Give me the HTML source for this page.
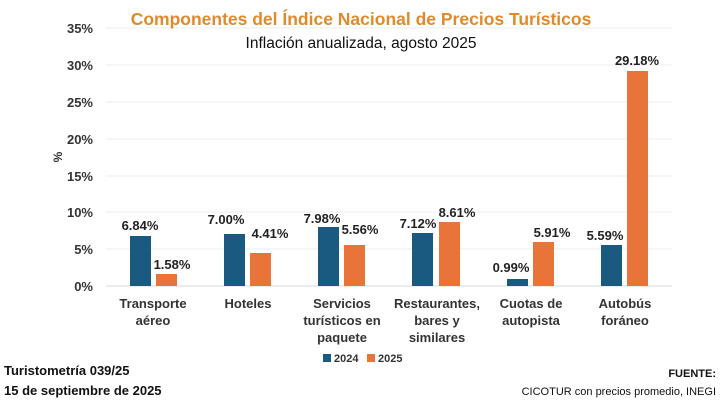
<!DOCTYPE html>
<html><head><meta charset="utf-8"><style>
body{margin:0;background:#fff;}
svg{display:block;font-family:"Liberation Sans",sans-serif;}
</style></head><body>
<svg width="720" height="403" viewBox="0 0 720 403">
<rect width="720" height="403" fill="#fff"/>
<g stroke="#eeeeee" stroke-width="1">
<line x1="106" y1="28" x2="672" y2="28"/><line x1="106" y1="65" x2="672" y2="65"/>
<line x1="106" y1="102" x2="672" y2="102"/><line x1="106" y1="139" x2="672" y2="139"/>
<line x1="106" y1="176" x2="672" y2="176"/><line x1="106" y1="212" x2="672" y2="212"/>
<line x1="106" y1="249" x2="672" y2="249"/><line x1="106" y1="286" x2="672" y2="286" stroke="#d9d9d9"/>
</g>
<g font-size="13" font-weight="bold" fill="#333" text-anchor="end">
<text x="93" y="33">35%</text><text x="93" y="70">30%</text><text x="93" y="107">25%</text>
<text x="93" y="144">20%</text><text x="93" y="181">15%</text><text x="93" y="217">10%</text>
<text x="93" y="254">5%</text><text x="93" y="291">0%</text>
</g>
<text x="62" y="157" font-size="12" font-weight="bold" fill="#333" transform="rotate(-90 62 157)" text-anchor="middle">%</text>
<text x="361" y="25" font-size="17.5" font-weight="bold" fill="#e08a2c" text-anchor="middle">Componentes del Índice Nacional de Precios Turísticos</text>
<text x="361" y="48" font-size="15.5" fill="#111" text-anchor="middle">Inflación anualizada, agosto 2025</text>
<g fill="#1b5a80">
<rect x="130" y="236" width="21" height="50"/><rect x="224" y="234" width="21" height="52"/>
<rect x="318" y="227" width="21" height="59"/><rect x="412" y="233" width="21" height="53"/>
<rect x="507" y="279" width="21" height="7"/><rect x="601" y="245" width="21" height="41"/>
</g>
<g fill="#e8743a">
<rect x="156" y="274" width="21" height="12"/><rect x="250" y="253" width="21" height="33"/>
<rect x="344" y="245" width="21" height="41"/><rect x="439" y="222" width="21" height="64"/>
<rect x="533" y="242" width="21" height="44"/><rect x="627" y="71" width="21" height="215"/>
</g>
<g font-size="13" font-weight="bold" fill="#222" text-anchor="middle">
<text x="140" y="230">6.84%</text><text x="172" y="269">1.58%</text>
<text x="226" y="224">7.00%</text><text x="270" y="238">4.41%</text>
<text x="322" y="223">7.98%</text><text x="360" y="234">5.56%</text>
<text x="418" y="228">7.12%</text><text x="457" y="217">8.61%</text>
<text x="511" y="272">0.99%</text><text x="552" y="237">5.91%</text>
<text x="605" y="240">5.59%</text><text x="637" y="65">29.18%</text>
</g>
<g font-size="13" font-weight="bold" fill="#333" text-anchor="middle">
<text x="153" y="308">Transporte</text><text x="153" y="325">aéreo</text>
<text x="248" y="308">Hoteles</text>
<text x="342" y="308">Servicios</text><text x="342" y="325">turísticos en</text><text x="342" y="342">paquete</text>
<text x="437" y="308">Restaurantes,</text><text x="437" y="325">bares y</text><text x="437" y="342">similares</text>
<text x="531" y="308">Cuotas de</text><text x="531" y="325">autopista</text>
<text x="625" y="308">Autobús</text><text x="625" y="325">foráneo</text>
</g>
<rect x="323" y="354" width="8" height="8" fill="#1b5a80"/>
<text x="334" y="362" font-size="11" font-weight="bold" fill="#333">2024</text>
<rect x="367" y="354" width="8" height="8" fill="#e8743a"/>
<text x="378" y="362" font-size="11" font-weight="bold" fill="#333">2025</text>
<text x="4" y="375" font-size="13" font-weight="bold" fill="#111">Turistometría 039/25</text>
<text x="4" y="395" font-size="13" font-weight="bold" fill="#111">15 de septiembre de 2025</text>
<text x="716" y="377" font-size="11" font-weight="bold" fill="#111" text-anchor="end">FUENTE:</text>
<text x="716" y="395" font-size="11" fill="#111" text-anchor="end">CICOTUR con precios promedio, INEGI</text>
</svg>
</body></html>
